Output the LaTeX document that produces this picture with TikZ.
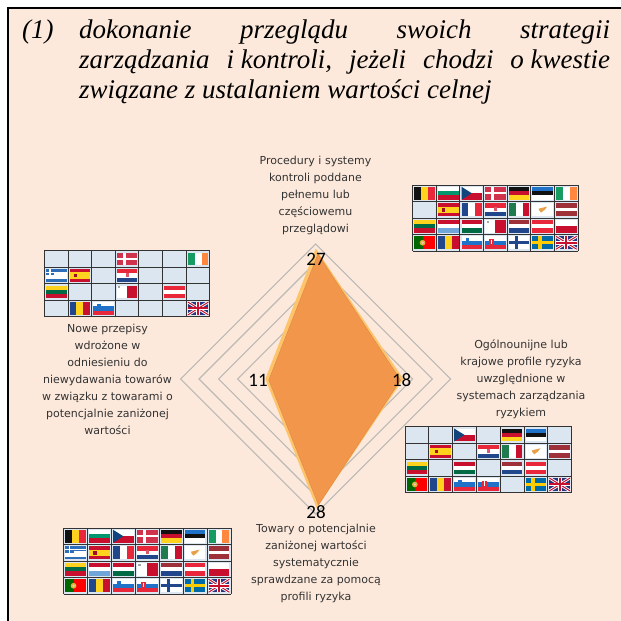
\documentclass[tikz,border=0pt]{standalone}
\usepackage{fontspec}
\setmainfont{Liberation Serif}
\newfontfamily\labelfont{DejaVu Sans}
\newfontfamily\numfont{Carlito}
\definecolor{bgpeach}{HTML}{FCE9DB}
\definecolor{cellblue}{HTML}{DCE6F1}
\definecolor{gridink}{HTML}{333333}
\definecolor{ringgrey}{HTML}{BDB9B5}
\definecolor{areamain}{HTML}{F2964C}
\definecolor{arealight}{HTML}{FFC46B}
\definecolor{areaedge}{HTML}{D98A45}
\definecolor{labelink}{HTML}{333333}
\definecolor{fblack}{HTML}{111111}
\definecolor{fyellow}{HTML}{FFD21E}
\definecolor{fred}{HTML}{E8283A}
\definecolor{fdred}{HTML}{C8102E}
\definecolor{fgreen}{HTML}{00966E}
\definecolor{fblue}{HTML}{11457E}
\definecolor{fnavy}{HTML}{21468B}
\definecolor{flblue}{HTML}{6FA5D8}
\definecolor{fsky}{HTML}{1F72C8}
\definecolor{flag1}{HTML}{169B62}
\definecolor{forange}{HTML}{FF883E}
\definecolor{fmaroon}{HTML}{9E3039}
\definecolor{fcopper}{HTML}{E8A048}
\definecolor{fdgreen}{HTML}{1F7A4D}
\definecolor{fltgreen}{HTML}{006A44}
\definecolor{fsweden}{HTML}{006AA7}
\definecolor{fgold}{HTML}{FECC00}
\definecolor{fgreece}{HTML}{2E6DB8}
\definecolor{fpure}{HTML}{FF0000}
\definecolor{fpgreen}{HTML}{006600}
\definecolor{fukblue}{HTML}{27357E}
\tikzset{
  ring/.style={draw=ringgrey,line width=1.1pt},
  headline/.style={anchor=base west,inner sep=0pt,font=\itshape\fontsize{27}{27}\selectfont},
  axislabel/.style={font=\labelfont\fontsize{11}{17}\selectfont,text=labelink,align=center,inner sep=0pt},
  axisvalue/.style={font=\numfont\fontsize{19}{19}\selectfont,text=black,inner sep=0pt},
}
\newcommand\hs[3]{\fill[#1] (0,0) rectangle (1,1/3);\fill[#2] (0,1/3) rectangle (1,2/3);\fill[#3] (0,2/3) rectangle (1,1);}
\newcommand\vs[3]{\fill[#1] (0,0) rectangle (1/3,1);\fill[#2] (1/3,0) rectangle (2/3,1);\fill[#3] (2/3,0) rectangle (1,1);}
\newcommand\flBE{\vs{fblack}{fyellow}{fred}}
\newcommand\flBG{\hs{white}{fgreen}{fdred}}
\newcommand\flCZ{\fill[white] (0,0) rectangle (1,.5);\fill[fdred] (0,.5) rectangle (1,1);\fill[fblue] (0,0)--(.5,.5)--(0,1)--cycle;}
\newcommand\flDK{\fill[fdred!85!white] (0,0) rectangle (1,1);\fill[white] (.3,0) rectangle (.42,1);\fill[white] (0,.44) rectangle (1,.56);}
\newcommand\flDE{\hs{fblack}{fdred}{fyellow}}
\newcommand\flEE{\hs{fsky}{fblack}{white}}
\newcommand\flIE{\vs{flag1}{white}{forange}}
\newcommand\flEL{\hs{fgreece}{white}{fgreece}\fill[white] (0,.2) rectangle (1,.3);\fill[white] (0,.7) rectangle (1,.8);\fill[fgreece] (0,0) rectangle (.4,.5);\fill[white] (.16,0) rectangle (.24,.5);\fill[white] (0,.2) rectangle (.4,.3);}
\newcommand\flES{\fill[fdred] (0,0) rectangle (1,1);\fill[fyellow] (0,.25) rectangle (1,.75);\fill[fdred!80!black] (.2,.36) rectangle (.36,.64);}
\newcommand\flFR{\vs{fnavy}{white}{fred}}
\newcommand\flHR{\hs{fred}{white}{fnavy}\fill[fdred!70!white] (.42,.28) rectangle (.58,.6);}
\newcommand\flIT{\vs{fdgreen}{white}{fdred}}
\newcommand\flCY{\fill[white] (0,0) rectangle (1,1);\fill[fcopper] (.3,.42)--(.72,.25)--(.6,.5)--(.42,.72)--(.34,.58)--cycle;}
\newcommand\flLV{\fill[fmaroon] (0,0) rectangle (1,1);\fill[white] (0,.4) rectangle (1,.6);}
\newcommand\flLT{\hs{fyellow}{fltgreen}{fdred}}
\newcommand\flLU{\hs{fdred}{white}{flblue}}
\newcommand\flHU{\hs{fdred}{white}{fltgreen}}
\newcommand\flMT{\fill[white] (0,0) rectangle (.5,1);\fill[fdred] (.5,0) rectangle (1,1);\fill[gray!70] (.07,.07) rectangle (.17,.22);}
\newcommand\flNL{\hs{fmaroon}{white}{fnavy}}
\newcommand\flAT{\hs{fred}{white}{fred}}
\newcommand\flPL{\fill[white] (0,0) rectangle (1,.5);\fill[fdred] (0,.5) rectangle (1,1);}
\newcommand\flPT{\fill[fpure] (0,0) rectangle (1,1);\fill[fpgreen] (0,0) rectangle (.4,1);\fill[fyellow!70!gray] (.4,.5) circle[x radius=.14,y radius=.22];\fill[white!75!red] (.4,.5) circle[x radius=.06,y radius=.1];}
\newcommand\flRO{\vs{fnavy}{fyellow}{fdred}}
\newcommand\flSI{\hs{white}{fsky}{fred}\fill[fsky] (.2,.15) rectangle (.36,.5);}
\newcommand\flSK{\hs{white}{fsky}{fred}\fill[fred] (.2,.2) rectangle (.44,.72);\fill[white] (.3,.25) rectangle (.34,.6);}
\newcommand\flFI{\fill[white] (0,0) rectangle (1,1);\fill[fnavy] (.28,0) rectangle (.46,1);\fill[fnavy] (0,.38) rectangle (1,.62);}
\newcommand\flSE{\fill[fsweden] (0,0) rectangle (1,1);\fill[fgold] (.28,0) rectangle (.46,1);\fill[fgold] (0,.38) rectangle (1,.62);}
\newcommand\flUK{\fill[fukblue] (0,0) rectangle (1,1);
  \draw[white,line width=2.8pt] (0,0)--(1,1) (0,1)--(1,0);
  \draw[fdred,line width=1pt] (0,0)--(1,1) (0,1)--(1,0);
  \fill[white] (.4,0) rectangle (.6,1);\fill[white] (0,.36) rectangle (1,.64);
  \fill[fdred] (.45,0) rectangle (.55,1);\fill[fdred] (0,.42) rectangle (1,.58);}
\newcommand\FlagGrid[4]{%
  \begin{scope}[shift={(#1,#2)}]
    \fill[cellblue] (0,0) rectangle (#4*7,66);
    \foreach \cc/\rr/\ff in #3 {
      \begin{scope}[shift={({(\cc-1)*#4+1.6},{(\rr-1)*16.5+1.8})},x=20.6pt,y=-12.9pt]
        \csname fl\ff\endcsname
      \end{scope}
    }
    \foreach \i in {0,...,7} \draw[gridink,line width=.9pt] ({\i*#4},0) -- ({\i*#4},66);
    \foreach \j in {0,...,4} \draw[gridink,line width=.9pt] (0,{\j*16.5}) -- ({7*#4},{\j*16.5});
  \end{scope}}
\def\listOne{1/1/BE,2/1/BG,3/1/CZ,4/1/DK,5/1/DE,6/1/EE,7/1/IE,2/2/ES,3/2/FR,4/2/HR,5/2/IT,6/2/CY,7/2/LV,1/3/LT,2/3/LU,3/3/HU,4/3/MT,5/3/NL,6/3/AT,7/3/PL,1/4/PT,2/4/RO,3/4/SI,4/4/SK,5/4/FI,6/4/SE,7/4/UK}
\def\listTwo{4/1/DK,7/1/IE,1/2/EL,2/2/ES,4/2/HR,1/3/LT,4/3/MT,6/3/AT,2/4/RO,3/4/SI,7/4/UK}
\def\listThree{3/1/CZ,5/1/DE,6/1/EE,2/2/ES,4/2/HR,5/2/IT,6/2/CY,7/2/LV,1/3/LT,3/3/HU,5/3/NL,6/3/AT,1/4/PT,2/4/RO,3/4/SI,4/4/SK,6/4/SE,7/4/UK}
\def\listFour{1/1/BE,2/1/BG,3/1/CZ,4/1/DK,5/1/DE,6/1/EE,7/1/IE,1/2/EL,2/2/ES,3/2/FR,4/2/HR,5/2/IT,6/2/CY,7/2/LV,1/3/LT,2/3/LU,3/3/HU,4/3/MT,5/3/NL,6/3/AT,7/3/PL,1/4/PT,2/4/RO,3/4/SI,4/4/SK,5/4/FI,6/4/SE,7/4/UK}
\begin{document}
\begin{tikzpicture}[x=1pt,y=-1pt]
\useasboundingbox (0,0) rectangle (621,621);
\fill[white] (0,0) rectangle (621,621);
\fill[bgpeach] (8,8) rectangle (621,621);
\fill[black] (6.5,6.5) rectangle (621,9);
\fill[black] (6.5,6.5) rectangle (9,621);

% header
\node[headline] (num) at (22,38) {(1)};
\node[headline] (h1) at (79,38) {\makebox[531pt][s]{dokonanie\hfill przeglądu\hfill swoich\hfill strategii}};
\node[headline] (h2) at (79,68) {\makebox[531pt][s]{zarządzania\hfill i kontroli,\hfill jeżeli\hfill chodzi\hfill o kwestie}};
\node[headline] (h3) at (79,98) {związane z ustalaniem wartości celnej};

% radar rings
\foreach \rad in {135,116.7,97,78}
  \draw[ring] (315.7,379-\rad) -- (315.7+\rad,379) -- (315.7,379+\rad) -- (315.7-\rad,379) -- cycle;

% data area
\fill[arealight] (315.7,248.5) -- (403.3,379) -- (316.7,508) -- (265.3,379) -- cycle;
\fill[areamain,draw=areaedge,line width=.4pt] (318,254) -- (400.5,380) -- (318.5,505) -- (268.8,380) -- cycle;

% values
\node[axisvalue] (v27) at (316,259) {27};
\node[axisvalue] (v18) at (401.7,380) {18};
\node[axisvalue] (v28) at (316,512) {28};
\node[axisvalue] (v11) at (258,380) {11};

% axis labels
\node[axislabel] (top) at (315.5,195.5) {Procedury i systemy\\kontroli poddane\\pełnemu lub\\częściowemu\\przeglądowi};
\node[axislabel] (right) at (521,379) {Ogólnounijne lub\\krajowe profile ryzyka\\uwzględnione w\\systemach zarządzania\\ryzykiem};
\node[axislabel] (bottom) at (316,563) {Towary o potencjalnie\\zaniżonej wartości\\systematycznie\\sprawdzane za pomocą\\profili ryzyka};
\node[axislabel] (left) at (107.5,379) {Nowe przepisy\\wdrożone w\\odniesieniu do\\niewydawania towarów\\w związku z towarami o\\potencjalnie zaniżonej\\wartości};

% flag tables
\FlagGrid{412.7}{185}{\listOne}{23.62}
\FlagGrid{44.3}{250.7}{\listTwo}{23.66}
\FlagGrid{405}{426.7}{\listThree}{23.8}
\FlagGrid{63.7}{528}{\listFour}{23.9}
\end{tikzpicture}
\end{document}
